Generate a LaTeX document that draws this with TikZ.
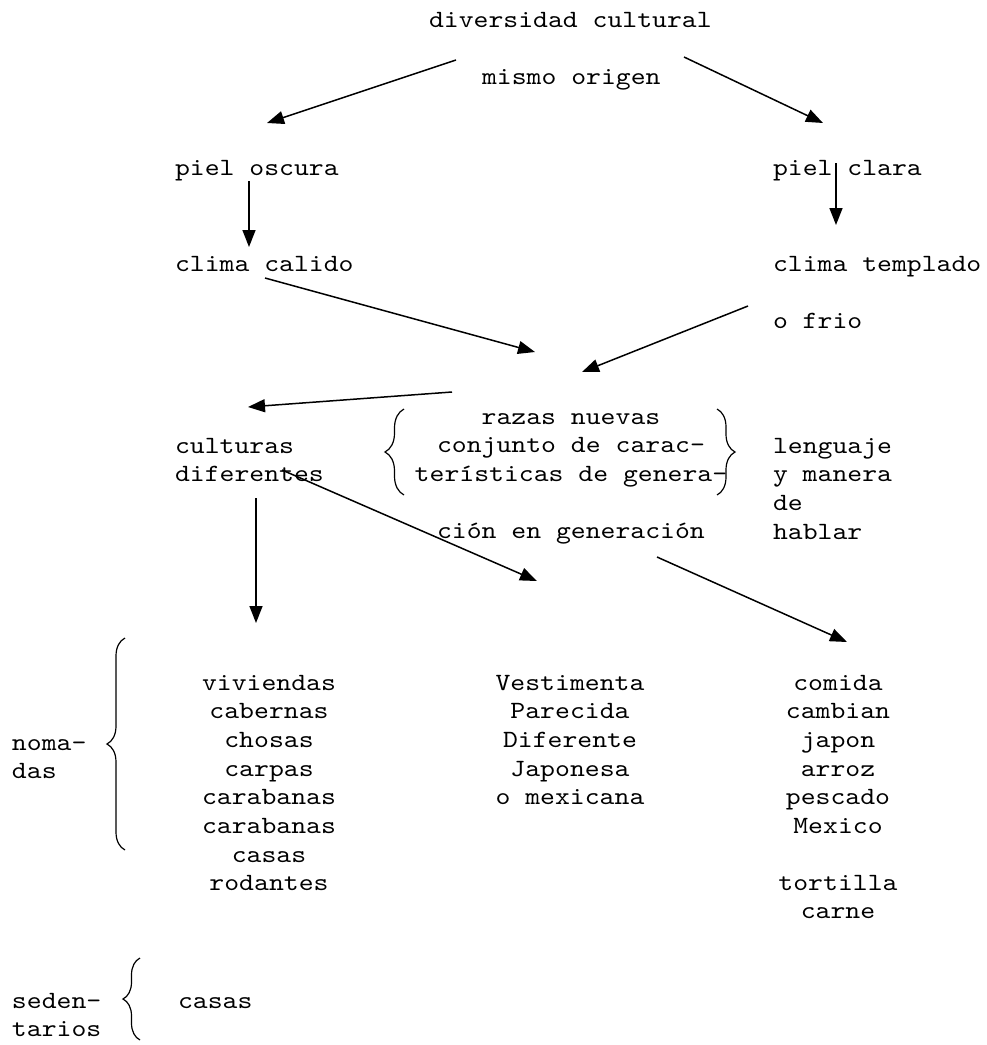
\documentclass[tikz,border=0pt]{standalone}
\usepackage{fontspec}
% typewriter face widened to Courier-like 0.6em advance
\setmainfont{lmmono10-regular.otf}[FakeStretch=1.143]
\usetikzlibrary{arrows.meta,decorations.pathreplacing}
\newcommand\tp{\rule{0pt}{20pt}}
\begin{document}
\begin{tikzpicture}[x=1pt,y=-1pt,
  every node/.style={inner sep=0pt,outer sep=0pt,font=\fontsize{24.8pt}{28.7pt}\selectfont},
  lbl/.style={anchor=base west},
  blockc/.style={anchor=north,align=center},
  blockl/.style={anchor=north west,align=left},
  arr/.style={line width=1.5pt,-{Triangle[length=17pt,width=13pt]}},
  lbrace/.style={line width=1.2pt,decorate,decoration={brace,amplitude=#1}},
]
\useasboundingbox[fill=white] (0,0) rectangle (987,1045);

% top level
\node[lbl] (div) at (429,27) {diversidad cultural};
\node[lbl] (ori) at (482,84) {mismo origen};
\node[lbl] (pos) at (175,175) {piel oscura};
\node[lbl] (pcl) at (773,175) {piel clara};
\node[lbl] (cca) at (175,271) {clima calido};
\node[lbl] (cte) at (773,271) {clima templado};
\node[lbl] (ofr) at (773,328) {o frio};

% middle band
\node[blockl] (cul) at (175,453-20) {\tp culturas\\diferentes};
\node[blockc] (raz) at (571,424-20) {\tp razas nuevas\\conjunto de carac-\\terísticas de genera-};
\node[lbl] (cion) at (437,538) {ción en generación};
\node[blockl] (len) at (773,453-20) {\tp lenguaje\\y manera\\de\\hablar};

% lower columns
\node[blockc] (viv) at (269,690-20) {\tp viviendas\\cabernas\\chosas\\carpas\\carabanas\\carabanas\\casas\\rodantes};
\node[blockc] (ves) at (570,690-20) {\tp Vestimenta\\Parecida\\Diferente\\Japonesa\\o mexicana};
\node[blockc] (com) at (838,690-20) {\tp comida\\cambian\\japon\\arroz\\pescado\\Mexico};
\node[blockc] (tor) at (838,890-20) {\tp tortilla\\carne};
\node[blockl] (nom) at (12,750-20) {\tp noma-\\das};
\node[blockl] (sed) at (12,1008-20) {\tp seden-\\tarios};
\node[lbl] (cas) at (178,1008) {casas};

% arrow ends
\coordinate (a1s) at (456,60);  \coordinate (a1e) at (267,123);
\coordinate (a2s) at (684,57);  \coordinate (a2e) at (823,123);
\coordinate (a3s) at (249,181); \coordinate (a3e) at (249,247);
\coordinate (a4s) at (836,163); \coordinate (a4e) at (836,225);
\coordinate (a5s) at (265,278); \coordinate (a5e) at (535,352);
\coordinate (a6s) at (748,306); \coordinate (a6e) at (582,372);
\coordinate (a7s) at (452,392); \coordinate (a7e) at (248,407);
\coordinate (a8s) at (256,498); \coordinate (a8e) at (256,623);
\coordinate (a9s) at (282,470); \coordinate (a9e) at (537,581);
\coordinate (a10s) at (657,557); \coordinate (a10e) at (847,642);

\draw[arr] (a1s) -- (a1e);
\draw[arr] (a2s) -- (a2e);
\draw[arr] (a3s) -- (a3e);
\draw[arr] (a4s) -- (a4e);
\draw[arr] (a5s) -- (a5e);
\draw[arr] (a6s) -- (a6e);
\draw[arr] (a7s) -- (a7e);
\draw[arr] (a8s) -- (a8e);
\draw[arr] (a9s) -- (a9e);
\draw[arr] (a10s) -- (a10e);

% braces
\coordinate (b1t) at (404,409); \coordinate (b1b) at (404,495);
\coordinate (b2t) at (717,409); \coordinate (b2b) at (717,495);
\coordinate (b3t) at (125,638); \coordinate (b3b) at (125,850);
\coordinate (b4t) at (140,958); \coordinate (b4b) at (140,1040);
\draw[lbrace=19pt] (b1b) -- (b1t);
\draw[lbrace=18pt] (b2t) -- (b2b);
\draw[lbrace=18pt] (b3b) -- (b3t);
\draw[lbrace=17pt] (b4b) -- (b4t);
\end{tikzpicture}
\end{document}
